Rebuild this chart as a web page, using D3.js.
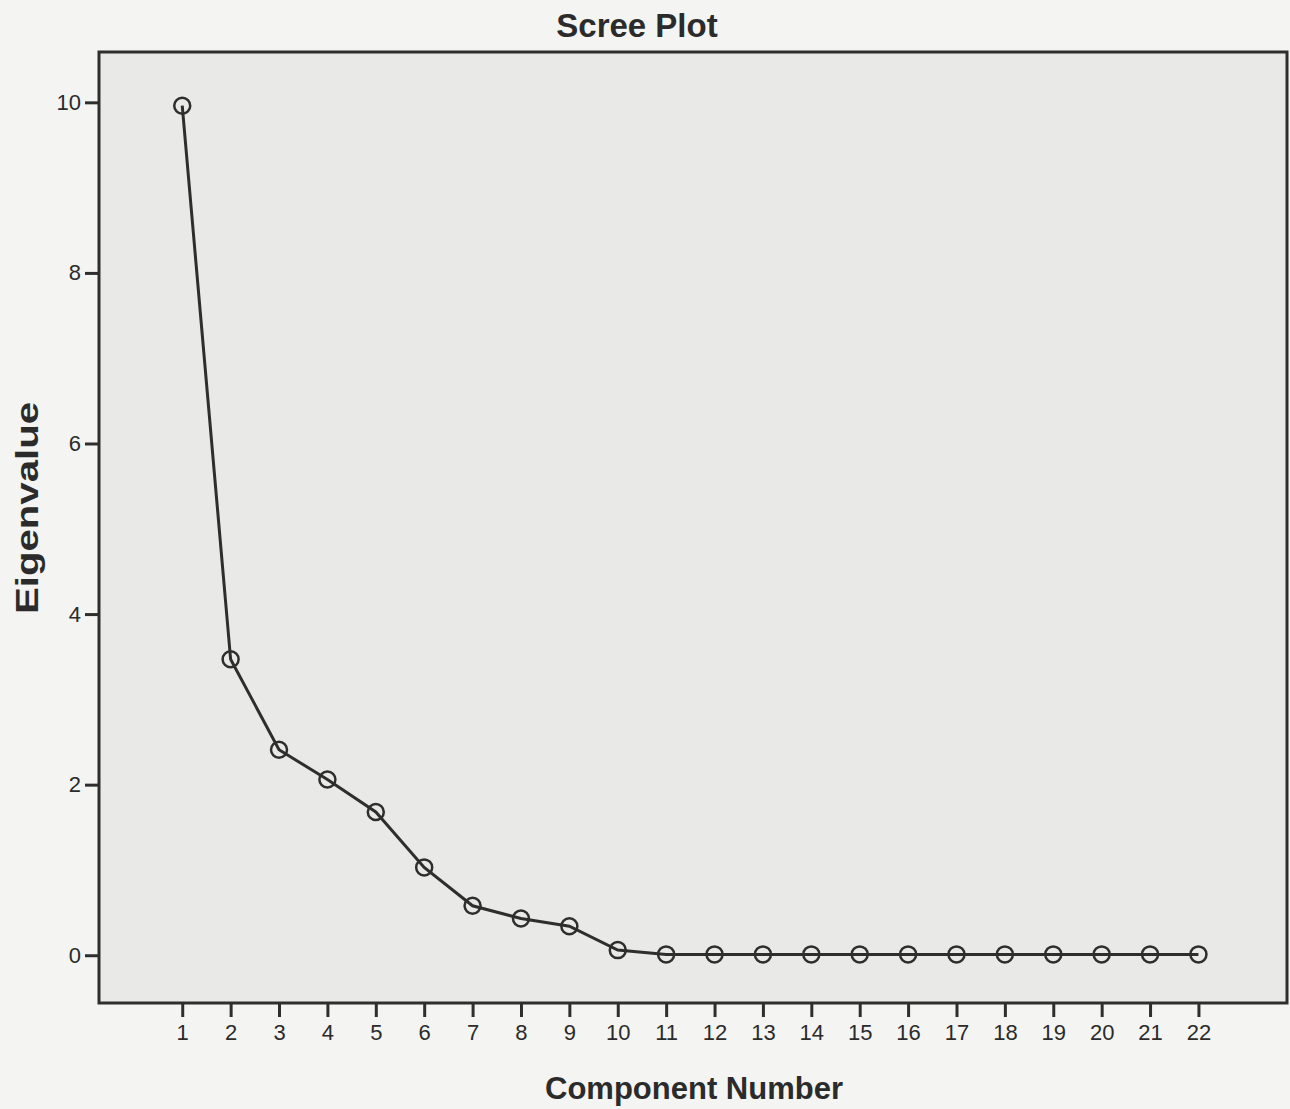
<!DOCTYPE html>
<html>
<head>
<meta charset="utf-8">
<script src="https://cdn.jsdelivr.net/npm/d3@7"></script>
<style>
  body { margin: 0; background: #f4f4f2; }
  text { font-family: "Liberation Sans", Arial, sans-serif; fill: #2b2b2b; }
</style>
</head>
<body>
<script>
// scree plot values
var components = [1, 2, 3, 4, 5, 6, 7, 8, 9, 10, 11, 12, 13, 14, 15, 16, 17, 18, 19, 20, 21, 22];
var eigenvalues = [9.96, 3.47, 2.41, 2.06, 1.68, 1.03, 0.58, 0.43, 0.34, 0.06,
  0.01, 0.01, 0.01, 0.01, 0.01, 0.01, 0.01, 0.01, 0.01, 0.01, 0.01, 0.01];
var yTicks = [0, 2, 4, 6, 8, 10];

var svgWidth = 1290;
var svgHeight = 1109;

var chartMargin = { top: 52, right: 3, bottom: 106, left: 99 };
var chartWidth = svgWidth - chartMargin.left - chartMargin.right;
var chartHeight = svgHeight - chartMargin.top - chartMargin.bottom;

var svg = d3.select("body")
  .append("svg")
  .attr("width", svgWidth)
  .attr("height", svgHeight);

var chartGroup = svg.append("g")
  .attr("transform", `translate(${chartMargin.left}, ${chartMargin.top})`);

// scales
var xScale = d3.scaleLinear()
  .domain([-0.72, 23.83])
  .range([0, chartWidth]);

var yScale = d3.scaleLinear()
  .domain([-0.56, 10.59])
  .range([chartHeight, 0]);

// plot area
chartGroup.append("rect")
  .attr("width", chartWidth)
  .attr("height", chartHeight)
  .attr("fill", "#e9e9e7")
  .attr("stroke", "#2e2e2e")
  .attr("stroke-width", 3);

// axes
var leftAxis = d3.axisLeft(yScale).tickValues(yTicks).tickSize(14).tickPadding(4).tickSizeOuter(0);
var bottomAxis = d3.axisBottom(xScale).tickValues(components).tickSize(14).tickPadding(7).tickSizeOuter(0);

var yAxis = chartGroup.append("g").call(leftAxis);
var xAxis = chartGroup.append("g")
  .attr("transform", `translate(0, ${chartHeight})`)
  .call(bottomAxis);

[yAxis, xAxis].forEach(function(ax) {
  ax.select(".domain").attr("stroke", "none");
  ax.selectAll(".tick line")
    .style("stroke", "#2e2e2e")
    .style("stroke-width", "3px");
  ax.selectAll("text")
    .style("font-family", "'Liberation Sans', Arial, sans-serif")
    .style("font-size", "22px")
    .attr("fill", "#2b2b2b");
});

// line
var line = d3.line()
  .x((d, i) => xScale(components[i]))
  .y(d => yScale(d));

chartGroup.append("path")
  .datum(eigenvalues)
  .attr("d", line)
  .attr("fill", "none")
  .attr("stroke", "#2e2e2e")
  .attr("stroke-width", 3);

chartGroup.selectAll("circle")
  .data(eigenvalues)
  .enter()
  .append("circle")
  .attr("cx", (d, i) => xScale(components[i]))
  .attr("cy", d => yScale(d))
  .attr("r", 8)
  .attr("fill", "none")
  .attr("stroke", "#2e2e2e")
  .attr("stroke-width", 2.5);

// titles
svg.append("text")
  .attr("x", 637)
  .attr("y", 37)
  .attr("text-anchor", "middle")
  .style("font-size", "33px")
  .style("font-weight", "bold")
  .text("Scree Plot");

svg.append("text")
  .attr("x", 694)
  .attr("y", 1099)
  .attr("text-anchor", "middle")
  .style("font-size", "31px")
  .style("font-weight", "bold")
  .text("Component Number");

svg.append("text")
  .attr("transform", "rotate(-90)")
  .attr("x", -508)
  .attr("y", 38)
  .attr("text-anchor", "middle")
  .attr("textLength", 212)
  .attr("lengthAdjust", "spacingAndGlyphs")
  .style("font-size", "32px")
  .style("font-weight", "bold")
  .text("Eigenvalue");
</script>
</body>
</html>
